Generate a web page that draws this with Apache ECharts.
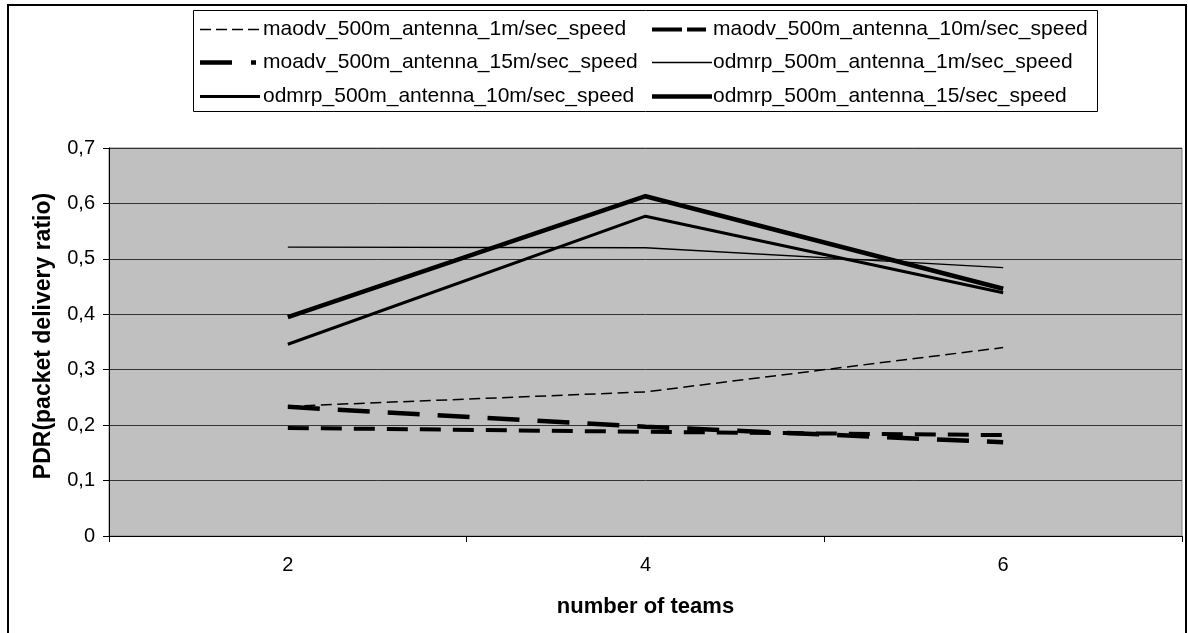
<!DOCTYPE html>
<html>
<head>
<meta charset="utf-8">
<script src="https://cdn.jsdelivr.net/npm/echarts@6/dist/echarts.min.js"></script>
<style>
  html, body { margin: 0; padding: 0; background: #fff; }
  #chart { width: 1188px; height: 633px; }
</style>
</head>
<body>
<div id="chart"></div>
<script>
// Number of teams on the x axis
const teams = ['2', '4', '6'];

// Packet delivery ratio per protocol / speed
const maodv1m  = [0.234, 0.260, 0.340];
const maodv10m = [0.195, 0.188, 0.182];
const moadv15m = [0.233, 0.197, 0.169];
const odmrp1m  = [0.521, 0.520, 0.484];
const odmrp10m = [0.346, 0.577, 0.439];
const odmrp15  = [0.395, 0.613, 0.446];

const seriesNames = [
  'maodv_500m_antenna_1m/sec_speed',
  'maodv_500m_antenna_10m/sec_speed',
  'moadv_500m_antenna_15m/sec_speed',
  'odmrp_500m_antenna_1m/sec_speed',
  'odmrp_500m_antenna_10m/sec_speed',
  'odmrp_500m_antenna_15/sec_speed'
];

const FONT = '"Liberation Sans", Arial, sans-serif';

function lineSeries(name, data, width, type) {
  return {
    name: name,
    type: 'line',
    data: data,
    symbol: 'none',
    lineStyle: { color: '#000', width: width, type: type },
    itemStyle: { color: '#000' },
    emphasis: { disabled: true },
    z: 3
  };
}

// Legend key: a row of filled dash segments [start, end] of given thickness
function dashIcon(segments, h) {
  let d = '';
  segments.forEach(function (s) {
    d += 'M' + s[0] + ',0H' + s[1] + 'V' + h + 'H' + s[0] + 'Z';
  });
  return 'path://' + d;
}

const legendKeys = [
  { segs: [[0, 11], [16, 27], [32, 43], [48, 59]], h: 1.5 },
  { segs: [[0, 30], [35, 54]], h: 4 },
  { segs: [[0, 32], [51, 56]], h: 4.5 },
  { segs: [[0, 60]], h: 1.3 },
  { segs: [[0, 60]], h: 3 },
  { segs: [[0, 60]], h: 4.5 }
];

// Two legend columns, three rows
const keyLeft = [200, 652];
const textLeft = [263, 713];
const rowTop = [19, 52, 86];
const legends = seriesNames.map(function (n, i) {
  const k = legendKeys[i];
  const w = k.segs[k.segs.length - 1][1];
  const col = i % 2;
  return {
    data: [{ name: n, icon: dashIcon(k.segs, k.h) }],
    left: keyLeft[col],
    top: rowTop[Math.floor(i / 2)],
    itemWidth: w,
    itemHeight: k.h,
    padding: 0,
    selectedMode: false,
    textStyle: {
      fontFamily: FONT, fontSize: 21, color: '#000',
      padding: [0, 0, 0, textLeft[col] - (keyLeft[col] + w + 5)]
    }
  };
});

const chart = echarts.init(document.getElementById('chart'), null, { renderer: 'canvas' });
chart.setOption({
  animation: false,
  backgroundColor: '#fff',
  textStyle: { fontFamily: FONT },
  graphic: [
    { type: 'rect', shape: { x: 8, y: 5, width: 1178, height: 700 },
      style: { fill: null, stroke: '#000', lineWidth: 2 }, silent: true, z: 100 },
    { type: 'rect', shape: { x: 193.5, y: 10.5, width: 904, height: 101 },
      style: { fill: null, stroke: '#000', lineWidth: 1 }, silent: true, z: 100 }
  ],
  legend: legends,
  grid: {
    left: 109, right: 6, top: 148, bottom: 97,
    show: true, backgroundColor: '#c0c0c0', borderColor: '#808080', borderWidth: 1
  },
  xAxis: {
    type: 'category',
    data: teams,
    boundaryGap: true,
    axisLine: { lineStyle: { color: '#000', width: 1 } },
    axisTick: { show: true, length: 6, lineStyle: { color: '#000' } },
    axisLabel: { margin: 19, fontSize: 20, color: '#000', fontFamily: FONT },
    name: 'number of teams',
    nameLocation: 'middle',
    nameGap: 60,
    nameTextStyle: { fontSize: 22, fontWeight: 'bold', color: '#000', fontFamily: FONT }
  },
  yAxis: {
    type: 'value',
    min: 0, max: 0.7, interval: 0.1,
    axisLine: { show: true, lineStyle: { color: '#000', width: 1 } },
    axisTick: { show: true, length: 6, lineStyle: { color: '#000' } },
    splitLine: { show: true, lineStyle: { color: '#333', width: 1 } },
    axisLabel: {
      margin: 14, fontSize: 20, color: '#000', fontFamily: FONT,
      formatter: function (v) { return v === 0 ? '0' : v.toFixed(1).replace('.', ','); }
    },
    name: 'PDR(packet delivery ratio)',
    nameLocation: 'middle',
    nameGap: 54,
    nameRotate: 90,
    nameTextStyle: {
      fontSize: 23, fontWeight: 'bold', color: '#000', fontFamily: FONT,
      padding: [0, 0, 0, 12]
    }
  },
  series: [
    lineSeries(seriesNames[0], maodv1m, 1.5, [11, 5.5]),
    lineSeries(seriesNames[1], maodv10m, 4, [21, 12]),
    lineSeries(seriesNames[2], moadv15m, 4.5, [32, 18]),
    lineSeries(seriesNames[3], odmrp1m, 1.3, 'solid'),
    lineSeries(seriesNames[4], odmrp10m, 3, 'solid'),
    lineSeries(seriesNames[5], odmrp15, 4.5, 'solid')
  ]
});
</script>
</body>
</html>
